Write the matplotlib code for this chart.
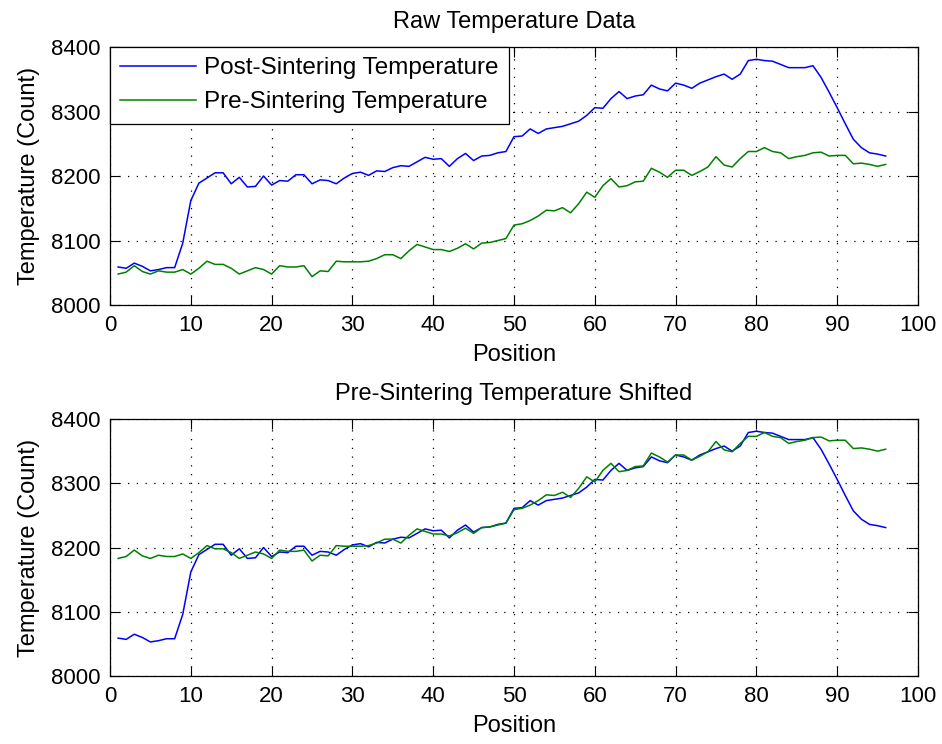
import matplotlib
matplotlib.use('Agg')
import matplotlib.pyplot as plt

plt.rcParams['font.family'] = ['Liberation Sans', 'DejaVu Sans']
plt.rcParams['font.size'] = 17

# sensor readings, positions 1..96
position = list(range(1, 97))

post = [8059, 8057, 8065, 8060, 8053, 8055, 8058, 8058, 8096, 8162,
        8189, 8197, 8205, 8205, 8188, 8198, 8183, 8184, 8200, 8186,
        8193, 8192, 8202, 8202, 8188, 8194, 8193, 8188, 8197, 8204,
        8206, 8201, 8208, 8207, 8213, 8216, 8215, 8222, 8229, 8226,
        8227, 8215, 8227, 8235, 8224, 8231, 8232, 8236, 8238, 8261,
        8262, 8273, 8266, 8273, 8275, 8277, 8281, 8285, 8294, 8306,
        8305, 8320, 8331, 8320, 8324, 8326, 8341, 8335, 8332, 8344,
        8341, 8336, 8344, 8349, 8354, 8358, 8350, 8358, 8379, 8381,
        8379, 8378, 8373, 8368, 8368, 8368, 8371, 8353, 8330, 8306,
        8281, 8257, 8244, 8236, 8234, 8231]

pre = [8048, 8051, 8061, 8052, 8048, 8053, 8051, 8051, 8055, 8048,
       8057, 8068, 8063, 8063, 8057, 8048, 8053, 8058, 8055, 8048,
       8061, 8059, 8059, 8061, 8044, 8053, 8052, 8068, 8067, 8067,
       8067, 8068, 8072, 8078, 8078, 8072, 8084, 8094, 8090, 8086,
       8086, 8083, 8088, 8095, 8087, 8096, 8097, 8100, 8103, 8124,
       8126, 8131, 8138, 8147, 8146, 8151, 8143, 8157, 8175, 8167,
       8185, 8196, 8183, 8185, 8191, 8192, 8212, 8206, 8198, 8209,
       8209, 8201, 8207, 8214, 8230, 8217, 8214, 8227, 8238, 8238,
       8244, 8238, 8236, 8227, 8230, 8232, 8236, 8237, 8231, 8232,
       8232, 8219, 8220, 8218, 8215, 8218]

# offset applied to the pre-sintering curve in the lower plot
pre_shift = 135
pre_shifted = [v + pre_shift for v in pre]

x_ticks = list(range(0, 101, 10))
y_ticks = [8000, 8100, 8200, 8300, 8400]

fig = plt.figure(figsize=(9.42, 7.44), dpi=100)
ax1 = fig.add_axes([0.1168, 0.590, 0.8577, 0.3468])
ax2 = fig.add_axes([0.1168, 0.0914, 0.8577, 0.3454])


def style(ax, title):
    ax.set_xlim(0, 100)
    ax.set_ylim(8000, 8400)
    ax.set_xticks(x_ticks)
    ax.set_yticks(y_ticks)
    ax.grid(True, color='black', linestyle=(0, (1, 6)), linewidth=0.9)
    ax.tick_params(direction='in', length=7, width=0.8, top=True, right=True,
                   pad=7, colors='black', labelsize=16)
    for s in ax.spines.values():
        s.set_linewidth(0.9)
        s.set_color('black')
    ax.set_title(title, fontsize=17, pad=14)
    ax.set_xlabel('Position', labelpad=6)
    ax.set_ylabel('Temperature (Count)', labelpad=8)


ax1.plot(position, post, color='#0000ff', lw=1.1, label='Post-Sintering Temperature')
ax1.plot(position, pre, color='#008000', lw=1.1, label='Pre-Sintering Temperature')
style(ax1, 'Raw Temperature Data')
leg = ax1.legend(loc='upper left', borderaxespad=0, fancybox=False, framealpha=1,
                 edgecolor='black', handlelength=3.1, handletextpad=0.35,
                 labelspacing=0.5, borderpad=0.42, fontsize=17.5)
leg.get_frame().set_linewidth(0.9)

ax2.plot(position, post, color='#0000ff', lw=1.1)
ax2.plot(position, pre_shifted, color='#008000', lw=1.1)
style(ax2, 'Pre-Sintering Temperature Shifted')

fig.savefig('out.png', dpi=100)
